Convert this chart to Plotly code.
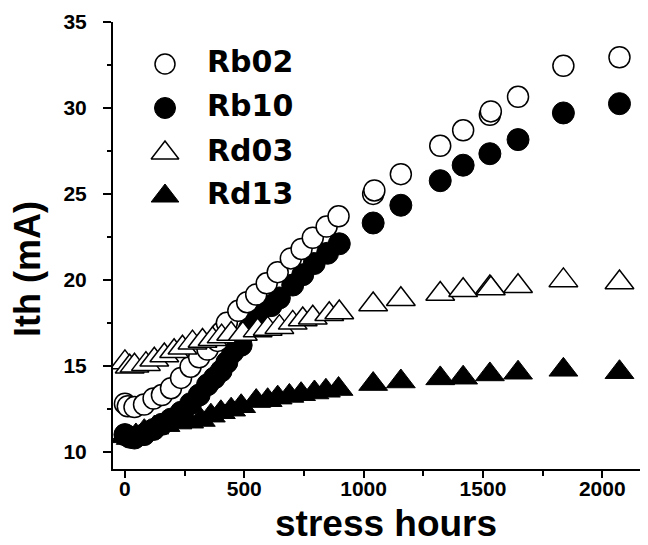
import plotly.graph_objects as go

# ---------------- data ----------------
series_names = ["Rb02", "Rb10", "Rd03", "Rd13"]

rb02_x = [0, 12, 40, 80, 120, 155, 193, 235, 275, 311, 346, 388, 405, 427, 475, 512, 550, 594, 640, 695, 740, 787, 845, 895,
          1040, 1045, 1156, 1321, 1417, 1529, 1533, 1647, 1837, 2072]
rb02_y = [12.8, 12.65, 12.6, 12.75, 13.1, 13.3, 13.7, 14.3, 14.95, 15.5, 15.95, 16.45, 16.95, 17.5, 18.2, 18.7, 19.15, 19.8, 20.45, 21.25, 21.8, 22.45, 23.1, 23.7,
          25.0, 25.2, 26.15, 27.8, 28.7, 29.6, 29.8, 30.65, 32.45, 32.95]

rb10_x = [0, 20, 40, 80, 120, 155, 193, 235, 275, 311, 346, 375, 403, 427, 452, 487, 522, 556, 612, 647, 703, 745, 793, 849, 898,
          1040, 1156, 1321, 1417, 1529, 1647, 1837, 2072]
rb10_y = [11.0, 10.85, 10.8, 11.0, 11.3, 11.6, 11.9, 12.3, 12.8, 13.3, 13.9, 14.3, 14.7, 15.2, 15.8, 16.2, 17.2, 17.9, 18.5, 18.95, 19.7, 20.3, 20.95, 21.55, 22.1,
          23.31, 24.34, 25.77, 26.67, 27.34, 28.16, 29.71, 30.25]

rd03_x = [0, 20, 40, 88, 123, 165, 206, 241, 283, 325, 367, 405, 445, 494, 556, 598, 647, 703, 745, 787, 856, 898,
          1040, 1156, 1321, 1417, 1529, 1533, 1647, 1837, 2072]
rd03_y = [15.2, 14.95, 15.0, 15.1, 15.35, 15.6, 15.85, 16.05, 16.35, 16.45, 16.55, 16.7, 16.85, 16.85, 17.05, 17.15, 17.25, 17.5, 17.7, 17.8, 18.0, 18.1,
          18.57, 18.87, 19.18, 19.4, 19.56, 19.5, 19.63, 19.97, 19.85]

rd13_x = [0, 24, 46, 81, 123, 170, 220, 269, 318, 360, 402, 445, 487, 550, 598, 640, 689, 738, 794, 842, 895,
          1040, 1156, 1321, 1417, 1529, 1647, 1837, 2072]
rd13_y = [10.9, 10.8, 10.95, 11.2, 11.4, 11.55, 11.7, 11.75, 11.85, 12.1, 12.3, 12.45, 12.65, 12.95, 13.0, 13.15, 13.25, 13.35, 13.45, 13.55, 13.65,
          13.94, 14.09, 14.27, 14.31, 14.5, 14.6, 14.77, 14.63]

x_tick_vals = [0, 500, 1000, 1500, 2000]
y_tick_vals = [10, 15, 20, 25, 30, 35]
x_title = "stress hours"
y_title = "Ith (mA)"

# ---------------- styles ----------------
W, H = 648, 545
ML, MR, MT, MB = 105, 0, 14, 84
FONT = "Liberation Sans, Arial, sans-serif"
LEGFONT = "DejaVu Sans, sans-serif"

styles = {
    "Rb02": dict(symbol="circle", size=21, color="white", line=dict(color="black", width=1.5)),
    "Rb10": dict(symbol="circle", size=22, color="black", line=dict(color="black", width=1)),
    "Rd03": dict(symbol="triangle-up", size=25, color="white", line=dict(color="black", width=1.5)),
    "Rd13": dict(symbol="triangle-up", size=25, color="black", line=dict(color="black", width=1)),
}
data = {
    "Rb02": (rb02_x, rb02_y),
    "Rb10": (rb10_x, rb10_y),
    "Rd03": (rd03_x, rd03_y),
    "Rd13": (rd13_x, rd13_y),
}

fig = go.Figure()
for name in ["Rd13", "Rb10", "Rb02", "Rd03"]:
    xs, ys = data[name]
    fig.add_trace(go.Scatter(x=xs, y=ys, mode="markers", name=name,
                             marker=styles[name], showlegend=False))

# in-plot key, drawn on a hidden overlay axis pair (0..1 over the plot area)
def to_px_frac_y(py):
    return (H - MB - py) / (H - MB - MT)

def to_px_frac_x(px):
    return (px - ML) / (W - ML - MR)

row_px = [56, 100, 145, 188]
key_marker_x = to_px_frac_x(157)
key_text_x = to_px_frac_x(199)
key_sizes = {"Rb02": 20, "Rb10": 21, "Rd03": 24, "Rd13": 24}
for name, py in zip(series_names, row_px):
    st = dict(styles[name])
    st["size"] = key_sizes[name]
    fig.add_trace(go.Scatter(x=[key_marker_x], y=[to_px_frac_y(py)], mode="markers",
                             marker=st, xaxis="x3", yaxis="y3", showlegend=False,
                             cliponaxis=False))
fig.add_trace(go.Scatter(x=[key_text_x] * 4, y=[to_px_frac_y(p) for p in row_px],
                         mode="text", text=series_names, textposition="middle right",
                         textfont=dict(family=LEGFONT, size=30, color="black", weight="bold"),
                         xaxis="x3", yaxis="y3", showlegend=False, cliponaxis=False))

tickfont = dict(family=FONT, size=21, color="black", weight="bold")

fig.update_layout(
    width=W, height=H,
    margin=dict(l=ML, r=MR, t=MT, b=MB),
    paper_bgcolor="white", plot_bgcolor="white",
    showlegend=False,
    xaxis=dict(range=[-50, 2225], tickvals=x_tick_vals, ticks="outside", ticklen=7, tickwidth=2,
               tickcolor="black", showline=True, linewidth=2, linecolor="black",
               showgrid=False, zeroline=False, tickfont=tickfont, ticklabelstandoff=-7,
               minor=dict(dtick=250, tick0=0, ticks="outside", ticklen=5, tickwidth=2,
                          tickcolor="black", showgrid=False)),
    xaxis2=dict(range=[-50, 2225], overlaying="x", side="top", anchor="y", tickvals=x_tick_vals,
                ticks="inside", ticklen=8, tickwidth=2, tickcolor="black",
                showline=True, linewidth=2, linecolor="black", showticklabels=False,
                showgrid=False, zeroline=False,
                minor=dict(dtick=250, tick0=0, ticks="inside", ticklen=6, tickwidth=2,
                           tickcolor="black", showgrid=False)),
    xaxis3=dict(range=[0, 1], overlaying="x", anchor="y3", visible=False),
    yaxis=dict(range=[9, 35], tickvals=y_tick_vals, ticks="outside", ticklen=8, tickwidth=2,
               tickcolor="black", showline=True, linewidth=2, linecolor="black",
               showgrid=False, zeroline=False, tickfont=tickfont, ticklabelstandoff=12,
               minor=dict(dtick=2.5, tick0=10, ticks="outside", ticklen=4, tickwidth=2,
                          tickcolor="black", showgrid=False)),
    yaxis2=dict(range=[9, 35], overlaying="y", side="right", anchor="x", tickvals=y_tick_vals,
                ticks="inside", ticklen=4, tickwidth=2, tickcolor="black",
                showline=False, showticklabels=False, showgrid=False, zeroline=False),
    yaxis3=dict(range=[0, 1], overlaying="y", anchor="x3", visible=False),
    annotations=[
        dict(text=x_title, xref="paper", yref="paper", x=to_px_frac_x(378), y=to_px_frac_y(515),
             xanchor="center", yanchor="middle", showarrow=False,
             font=dict(family=FONT, size=37, color="black", weight="bold")),
        dict(text=y_title, xref="paper", yref="paper", x=to_px_frac_x(19), y=to_px_frac_y(261),
             xanchor="center", yanchor="middle", showarrow=False, textangle=-90,
             font=dict(family=FONT, size=36, color="black", weight="bold")),
    ],
)

fig.write_html("out.html")
